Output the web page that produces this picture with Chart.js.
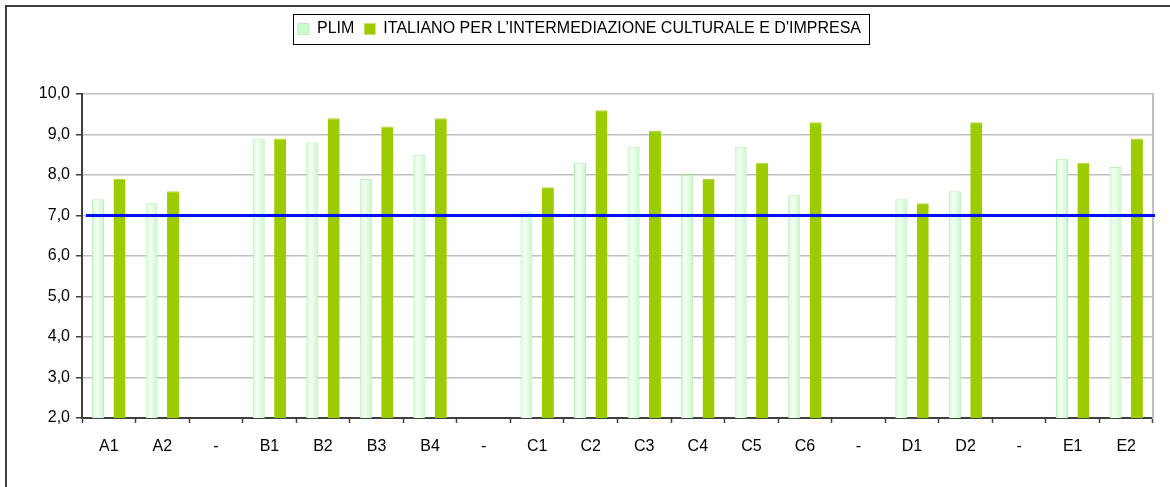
<!DOCTYPE html>
<html>
<head>
<meta charset="utf-8">
<title>PLIM</title>
<script src="https://cdn.jsdelivr.net/npm/chart.js@4.4.1/dist/chart.umd.min.js"></script>
<style>
  body { margin: 0; background: #fff; }
  canvas { display: block; }
</style>
</head>
<body>
<canvas id="results-chart" width="1170" height="487"></canvas>
<script>
'use strict';

// data
let categories = ['A1', 'A2', '-', 'B1', 'B2', 'B3', 'B4', '-', 'C1', 'C2', 'C3', 'C4', 'C5', 'C6', '-', 'D1', 'D2', '-', 'E1', 'E2'];
let plimValues = [7.4, 7.3, null, 8.9, 8.8, 7.9, 8.5, null, 7.1, 8.3, 8.7, 8.0, 8.7, 7.5, null, 7.4, 7.6, null, 8.4, 8.2];
let italianoValues = [7.9, 7.6, null, 8.9, 9.4, 9.2, 9.4, null, 7.7, 9.6, 9.1, 7.9, 8.3, 9.3, null, 7.3, 9.3, null, 8.3, 8.9];
let seriesNames = ['PLIM', "ITALIANO PER L'INTERMEDIAZIONE CULTURALE E D'IMPRESA"];
let passMark = 7;
let yMin = 2;
let yMax = 10;
let yStep = 1;

Chart.defaults.font.family = "'Liberation Sans', Arial, sans-serif";
Chart.defaults.font.size = 16;
Chart.defaults.color = '#000';

// extra room under the legend
const legendSpace = {
  id: 'legendSpace',
  beforeInit(chart) {
    const fit = chart.legend.fit;
    chart.legend.fit = function () {
      fit.bind(chart.legend)();
      this.height += 47;
    };
  }
};

// light shading on the PLIM bars
const plimShade = {
  id: 'plimShade',
  afterDatasetDraw(chart, args) {
    if (args.index !== 0) return;
    const c = chart.ctx;
    const bottom = chart.chartArea.bottom;
    c.save();
    args.meta.data.forEach(function (bar) {
      const p = bar.getProps(['x', 'y', 'base', 'width'], true);
      if (p.y == null || isNaN(p.y) || p.y >= bottom) return;
      const left = p.x - p.width / 2;
      const g = c.createLinearGradient(left, 0, left + p.width, 0);
      g.addColorStop(0, '#cdfacd');
      g.addColorStop(0.35, '#f6fff6');
      g.addColorStop(1, '#c8f8c8');
      c.fillStyle = g;
      c.fillRect(left + 1, p.y + 1, p.width - 2, Math.min(p.base, bottom) - p.y - 1);
    });
    c.restore();
  }
};

// the 7,0 pass line, over the bars
const passLine = {
  id: 'passLine',
  afterDatasetsDraw(chart) {
    const c = chart.ctx;
    const area = chart.chartArea;
    const y = chart.scales.y.getPixelForValue(passMark);
    c.save();
    c.strokeStyle = '#0010ff';
    c.lineWidth = 3;
    c.beginPath();
    c.moveTo(area.left + 4, y);
    c.lineTo(area.right + 2, y);
    c.stroke();
    c.restore();
  }
};

// outer frame and box round the legend
const frame = {
  id: 'frame',
  afterDraw(chart) {
    const c = chart.ctx;
    c.save();
    c.strokeStyle = '#404040';
    c.lineWidth = 2;
    c.beginPath();
    c.moveTo(6, chart.height);
    c.lineTo(6, 6);
    c.lineTo(chart.width, 6);
    c.stroke();

    const boxes = chart.legend.legendHitBoxes;
    if (boxes && boxes.length) {
      let first = boxes[0];
      let last = boxes[boxes.length - 1];
      let left = Math.round(first.left - 5) + 0.5;
      let right = Math.round(last.left + last.width + 8) + 0.5;
      let top = Math.round(first.top - 7) + 0.5;
      let bottom = Math.round(first.top + first.height + 7) + 0.5;
      c.lineWidth = 1;
      c.strokeStyle = '#000';
      c.strokeRect(left, top, right - left, bottom - top);
    }
    c.restore();
  }
};

const ctx = document.getElementById('results-chart');
const myChart = new Chart(ctx, {
  type: 'bar',
  data: {
    labels: categories,
    datasets: [{
      label: seriesNames[0],
      data: plimValues,
      backgroundColor: '#ccfccc',
      borderColor: '#b8eeb8',
      borderWidth: 1
    },
    {
      label: seriesNames[1],
      data: italianoValues,
      backgroundColor: '#9ccc00',
      borderColor: '#b0d838',
      borderWidth: { top: 1, left: 0, right: 0, bottom: 0 }
    }]
  },
  options: {
    responsive: false,
    animation: false,
    categoryPercentage: 0.8,
    barPercentage: 0.56,
    layout: { padding: { top: 11, left: 6, right: 17, bottom: 0 } },
    plugins: {
      legend: {
        labels: {
          boxWidth: 11,
          boxHeight: 11,
          padding: 10
        }
      },
      tooltip: { enabled: false }
    },
    scales: {
      x: {
        z: 1,
        grid: { offset: true, drawOnChartArea: false, tickLength: 5, tickColor: '#404040', tickWidth: 1.5 },
        border: { color: '#404040', width: 2 },
        ticks: { padding: 14, autoSkip: false, maxRotation: 0 },
        afterFit: function (scale) { scale.height = 69; }
      },
      y: {
        min: yMin,
        max: yMax,
        ticks: {
          stepSize: yStep,
          padding: 6,
          callback: function (v) { return v.toFixed(1).replace('.', ','); }
        },
        grid: { color: '#c0c0c0', lineWidth: 1.5, tickLength: 6, tickColor: '#404040', tickWidth: 1.5 },
        border: { color: '#404040', width: 2 },
        afterFit: function (scale) { scale.width = 76; }
      },
      y2: {
        position: 'right',
        ticks: { display: false },
        grid: { display: false },
        border: { display: true, color: '#c0c0c0', width: 2 },
        afterFit: function (scale) { scale.width = 0; }
      }
    }
  },
  plugins: [legendSpace, plimShade, passLine, frame]
});
</script>
</body>
</html>
